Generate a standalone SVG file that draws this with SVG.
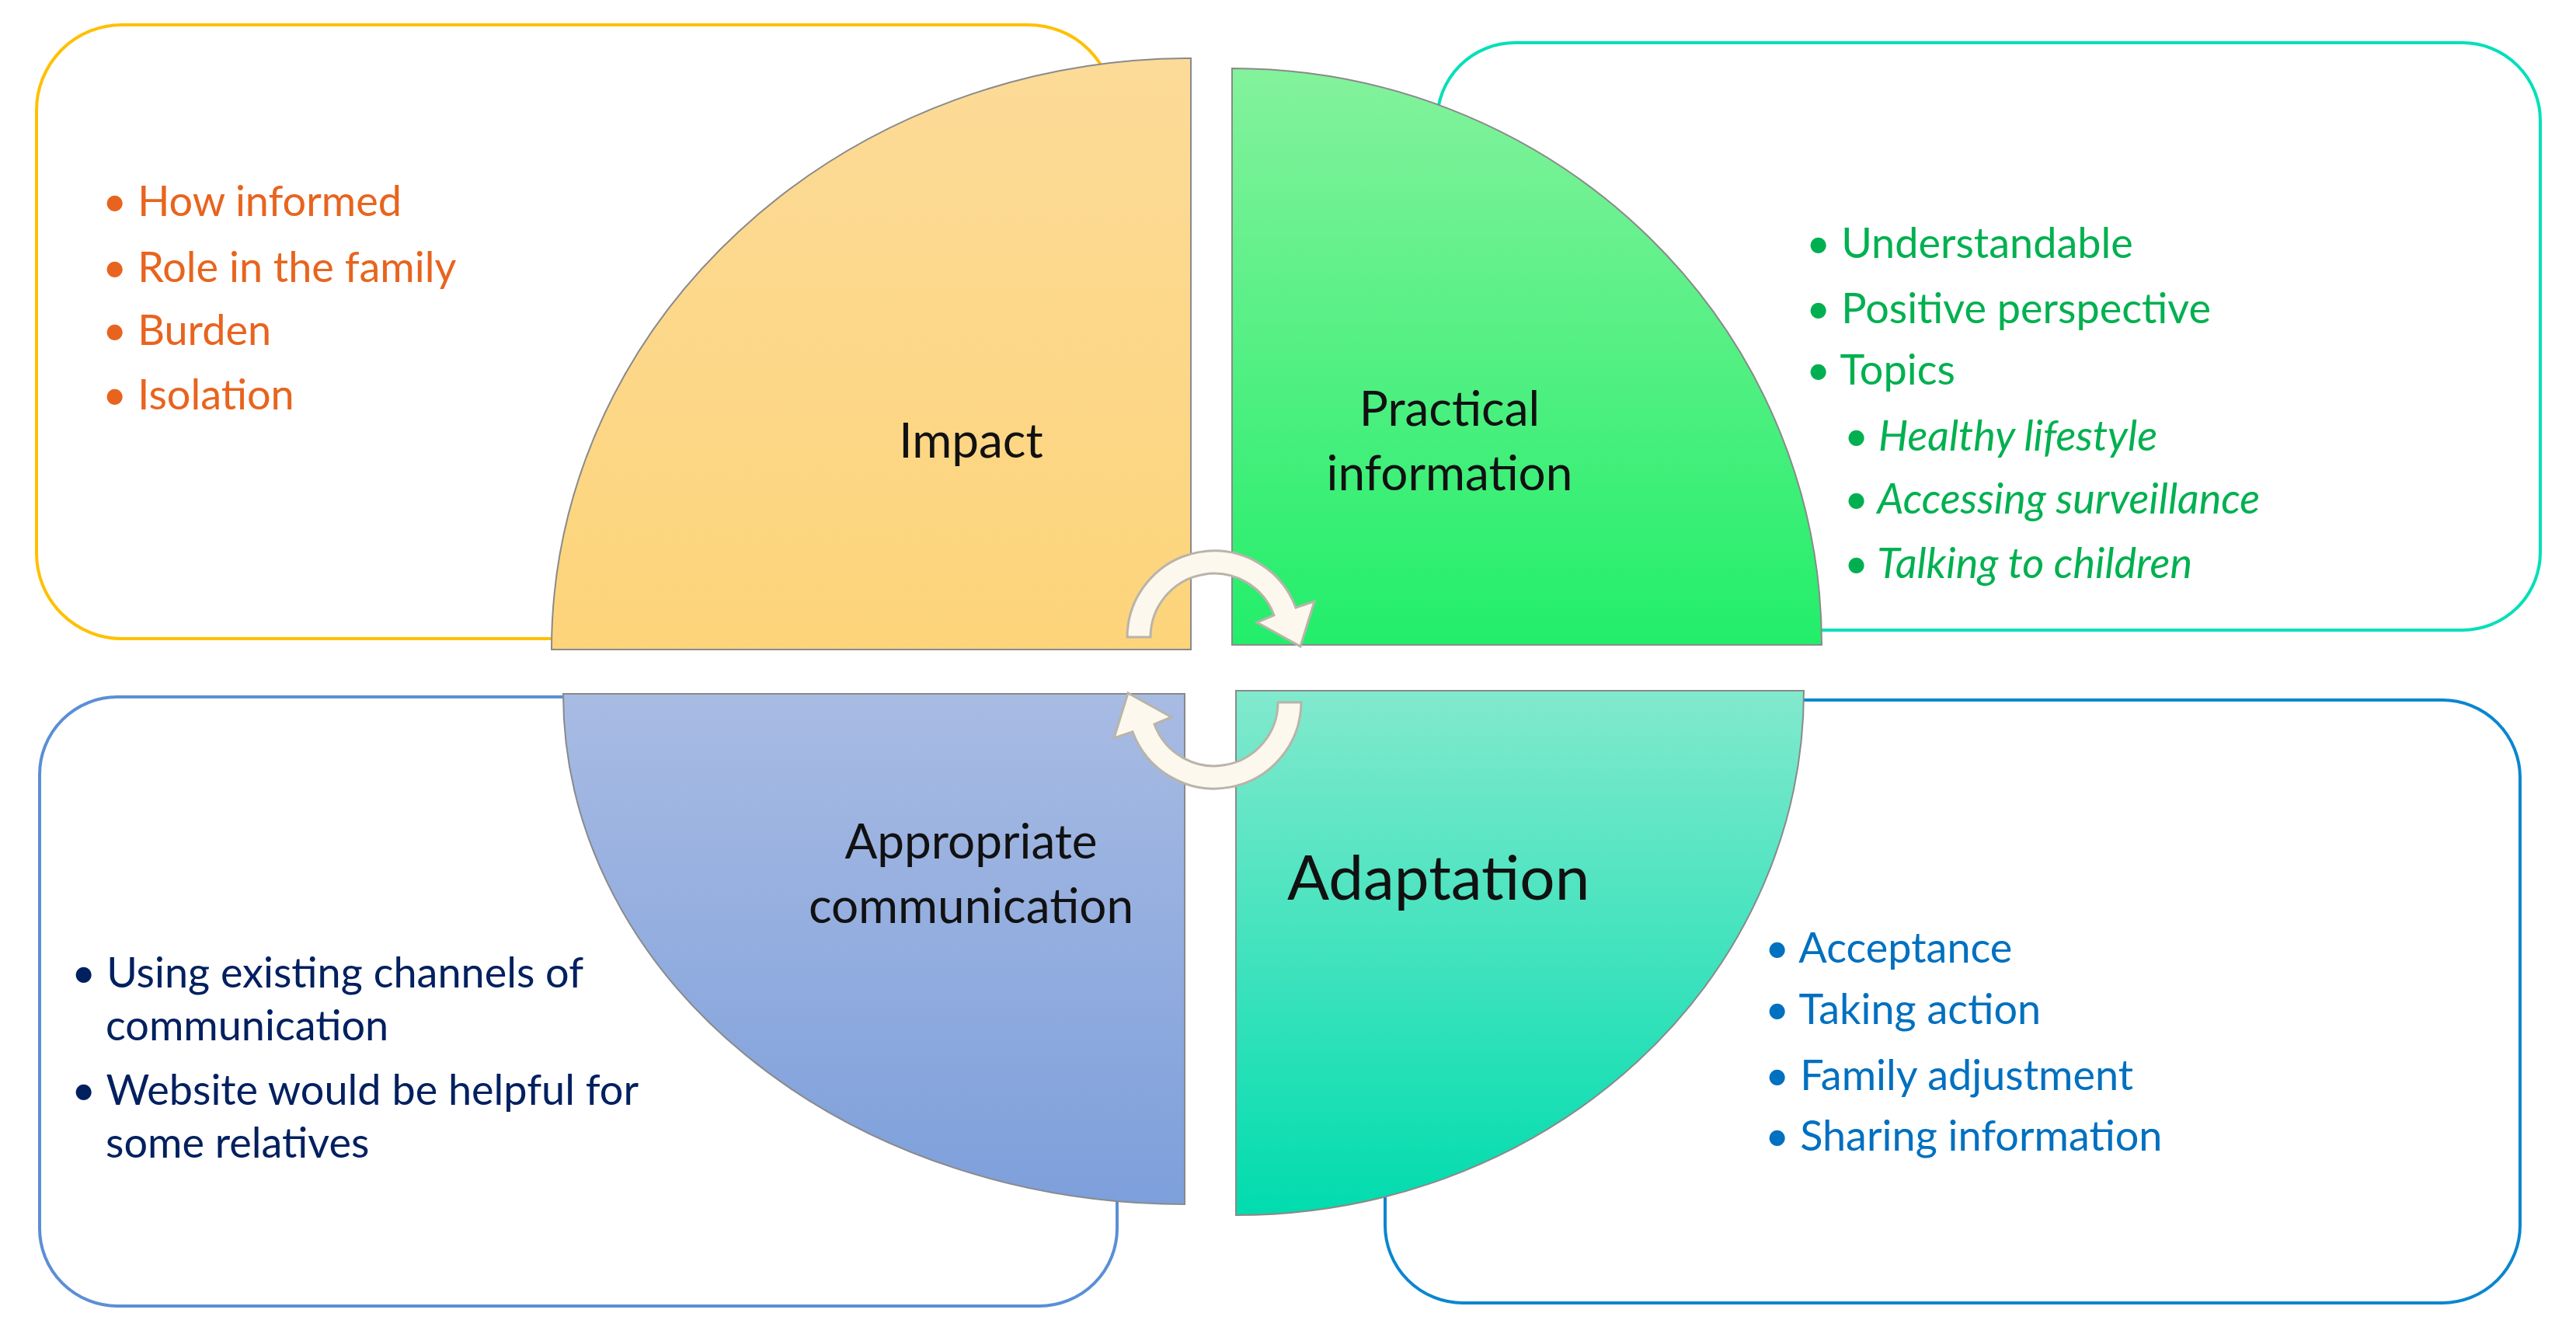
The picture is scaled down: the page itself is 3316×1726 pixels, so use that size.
<svg xmlns="http://www.w3.org/2000/svg" width="3316" height="1726" viewBox="0 0 3316 1726">
<defs>
<linearGradient id="gY" x1="0" y1="0" x2="0" y2="1"><stop offset="0" stop-color="#fcdb98"/><stop offset="1" stop-color="#fdd47a"/></linearGradient>
<linearGradient id="gG" x1="0" y1="0" x2="0" y2="1"><stop offset="0" stop-color="#84f29c"/><stop offset="1" stop-color="#22ee6a"/></linearGradient>
<linearGradient id="gB" x1="0" y1="0" x2="0" y2="1"><stop offset="0" stop-color="#a8bbe3"/><stop offset="1" stop-color="#7d9fdb"/></linearGradient>
<linearGradient id="gT" x1="0" y1="0" x2="0" y2="1"><stop offset="0" stop-color="#82e9cd"/><stop offset="1" stop-color="#00dcae"/></linearGradient>
<path id="arr" d="M1451,820 A112 112 0 0 1 1668,782 L1692,774 L1674,832 L1618,801 L1640,792 A82 82 0 0 0 1481,820 Z"/>
</defs>
<style>
.box{fill:#fff;stroke-width:4}
.pie{stroke:#8a8a8a;stroke-width:2}
text{font-family:Lato,"Open Sans","Liberation Sans",sans-serif}
.lbl{fill:#111;font-size:62px;text-anchor:middle}
.o{fill:#e8641e;font-size:54px}
.g{fill:#00b050;font-size:54px}
.gi{fill:#00b050;font-size:54px;font-style:italic}
.n{fill:#002060;font-size:54px}
.b{fill:#0070c0;font-size:54px}
.arrow{fill:#fdf8ee;stroke:#b8b4aa;stroke-width:3}
</style>
<rect width="3316" height="1726" fill="#fff"/>
<g id="box-impact"><rect class="box" x="47" y="32" width="1387" height="790" rx="110" stroke="#ffc000"/></g>
<g id="box-practical"><rect class="box" x="1850" y="55" width="1420" height="756" rx="100" stroke="#00e0b8"/></g>
<g id="box-communication"><rect class="box" x="51" y="897" width="1387" height="784" rx="100" stroke="#5b8fd6"/></g>
<g id="box-adaptation"><rect class="box" x="1783" y="901" width="1461" height="776" rx="100" stroke="#0a86d0"/></g>
<g id="impact">
<path class="pie" fill="url(#gY)" d="M1533 836 L710 836 A823 761 0 0 1 1533 75 Z"/>
<text class="lbl" x="1250" y="589">Impact</text>
</g>
<g id="practical">
<path class="pie" fill="url(#gG)" d="M1586 830 L1586 88 A759 742 0 0 1 2345 830 Z"/>
<text class="lbl" x="1866" y="548">Practical</text>
<text class="lbl" x="1866" y="631">information</text>
</g>
<g id="communication">
<path class="pie" fill="url(#gB)" d="M1525 893 L1525 1550 A800 657 0 0 1 725 893 Z"/>
<text class="lbl" x="1250" y="1105">Appropriate</text>
<text class="lbl" x="1250" y="1188">communication</text>
</g>
<g id="adaptation">
<path class="pie" fill="url(#gT)" d="M1591 889 L2322 889 A731 675 0 0 1 1591 1564 Z"/>
<text x="1657" y="1158" style="fill:#111;font-size:80px">Adaptation</text>
</g>
<g id="connectors">
<use href="#arr" class="arrow"/>
<use href="#arr" class="arrow" transform="rotate(180 1563 862)"/>
</g>
<g id="list-impact">
<text class="o" x="132" y="278">• How informed</text>
<text class="o" x="132" y="363">• Role in the family</text>
<text class="o" x="132" y="444">• Burden</text>
<text class="o" x="132" y="527">• Isolation</text>
</g>
<g id="list-practical">
<text class="g" x="2325" y="332">• Understandable</text>
<text class="g" x="2325" y="416">• Positive perspective</text>
<text class="g" x="2325" y="495">• Topics</text>
<text class="gi" x="2374" y="580">• Healthy lifestyle</text>
<text class="gi" x="2374" y="661">• Accessing surveillance</text>
<text class="gi" x="2374" y="744">• Talking to children</text>
</g>
<g id="list-communication">
<text class="n" x="92" y="1271">• Using existing channels of</text>
<text class="n" x="136" y="1339">communication</text>
<text class="n" x="92" y="1422">• Website would be helpful for</text>
<text class="n" x="136" y="1490">some relatives</text>
</g>
<g id="list-adaptation">
<text class="b" x="2272" y="1239">• Acceptance</text>
<text class="b" x="2272" y="1318">• Taking action</text>
<text class="b" x="2272" y="1403">• Family adjustment</text>
<text class="b" x="2272" y="1481">• Sharing information</text>
</g>
</svg>
